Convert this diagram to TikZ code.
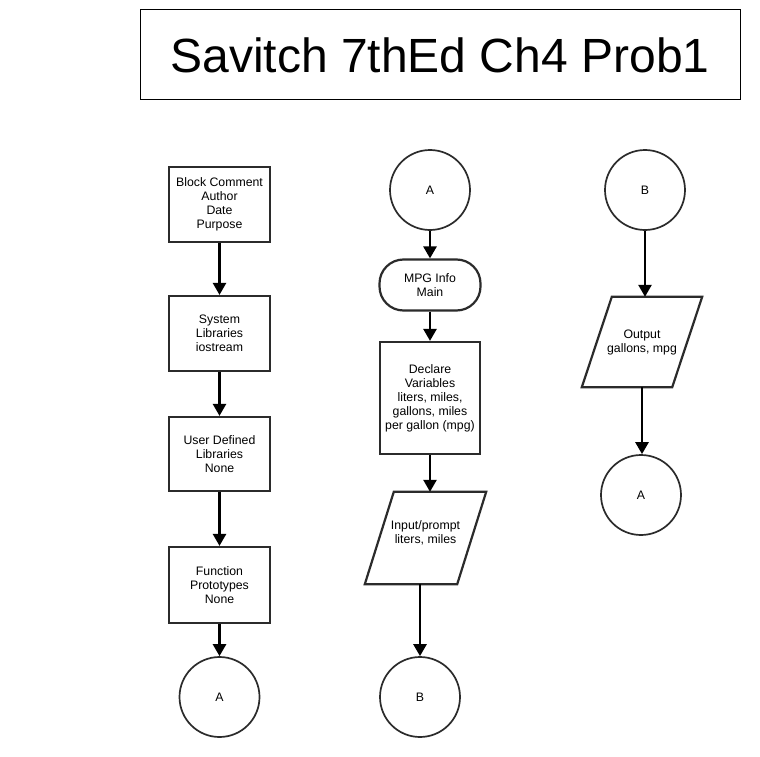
\documentclass[tikz,border=0pt]{standalone}
\usepackage{fontspec}
\setmainfont{Liberation Sans}
\usetikzlibrary{arrows.meta}
\definecolor{edge}{HTML}{2B2B2B}
\begin{document}
\begin{tikzpicture}[x=1pt,y=-1pt,
  txt/.style={font=\fontsize{12.3}{14}\selectfont, align=center},
  stepbox/.style={txt, draw=edge, line width=2.2pt, fill=white, inner sep=0pt},
  termbox/.style={stepbox, rounded corners=24pt},
  circ/.style={txt, circle, draw=edge, line width=1.7pt, minimum size=80pt, inner sep=0pt},
  paraframe/.style={draw=none, inner sep=0pt},
  paraline/.style={draw=edge, line width=2.2pt},
  flow/.style={draw=black, line width=2.6pt, -{Triangle[width=13pt,length=12pt]}}
]
\useasboundingbox (0,0) rectangle (760,757);
\fill[white] (0,0) rectangle (760,757);

% title
\node[draw=black, line width=1pt, minimum width=600pt, minimum height=90pt, inner sep=0pt,
      font=\fontsize{48}{56}\selectfont] (title) at (440,55) {Savitch 7thEd Ch4 Prob1};

% column 1
\node[stepbox, minimum width=101pt, minimum height=75pt] (b1) at (219.5,204.5) {Block Comment\\Author\\Date\\Purpose};
\node[stepbox, minimum width=101pt, minimum height=75pt] (b2) at (219.5,333.5) {System\\Libraries\\iostream};
\node[stepbox, minimum width=101pt, minimum height=74pt] (b3) at (219.5,454) {User Defined\\Libraries\\None};
\node[stepbox, minimum width=101pt, minimum height=76pt] (b4) at (219.5,585) {Function\\Prototypes\\None};
\node[circ] (cA1) at (219.5,697) {A};

\draw[flow] (b1.south) -- (b2.north);
\draw[flow] (b2.south) -- (b3.north);
\draw[flow] (b3.south) -- (b4.north);
\draw[flow] (b4.south) -- (cA1.north);

% column 2
\node[circ] (cA2) at (430,190) {A};
\node[termbox, minimum width=101pt, minimum height=51pt] (term) at (430,285) {MPG Info\\Main};
\node[stepbox, minimum width=100pt, minimum height=112pt] (decl) at (430,398) {Declare\\Variables\\liters, miles,\\gallons, miles\\per gallon (mpg)};
\node[paraframe, minimum width=121pt, minimum height=92pt] (inp) at (425.5,538) {};
\draw[paraline] (inp.south west) -- ([xshift=29pt]inp.north west) -- (inp.north east) -- ([xshift=-29pt]inp.south east) -- cycle;
\node[txt] (inptext) at ([yshift=5.5pt]inp.center) {Input/prompt\\liters, miles};
\node[circ] (cB2) at (420,697) {B};

\draw[flow] (cA2.south) -- (term.north);
\draw[flow] (term.south) -- (decl.north);
\draw[flow] (decl.south) -- (decl.south |- inp.north);
\draw[flow] (cB2.north |- inp.south) -- (cB2.north);

% column 3
\node[circ] (cB3) at (645,190) {B};
\node[paraframe, minimum width=120pt, minimum height=90pt] (outp) at (642,342) {};
\draw[paraline] (outp.south west) -- ([xshift=30pt]outp.north west) -- (outp.north east) -- ([xshift=-30pt]outp.south east) -- cycle;
\node[txt] (outtext) at (outp.center) {Output\\gallons, mpg};
\node[circ] (cA3) at (641,495) {A};

\draw[flow] (cB3.south) -- (cB3.south |- outp.north);
\draw[flow] (outp.south) -- (outp.south |- cA3.north);
\end{tikzpicture}
\end{document}
